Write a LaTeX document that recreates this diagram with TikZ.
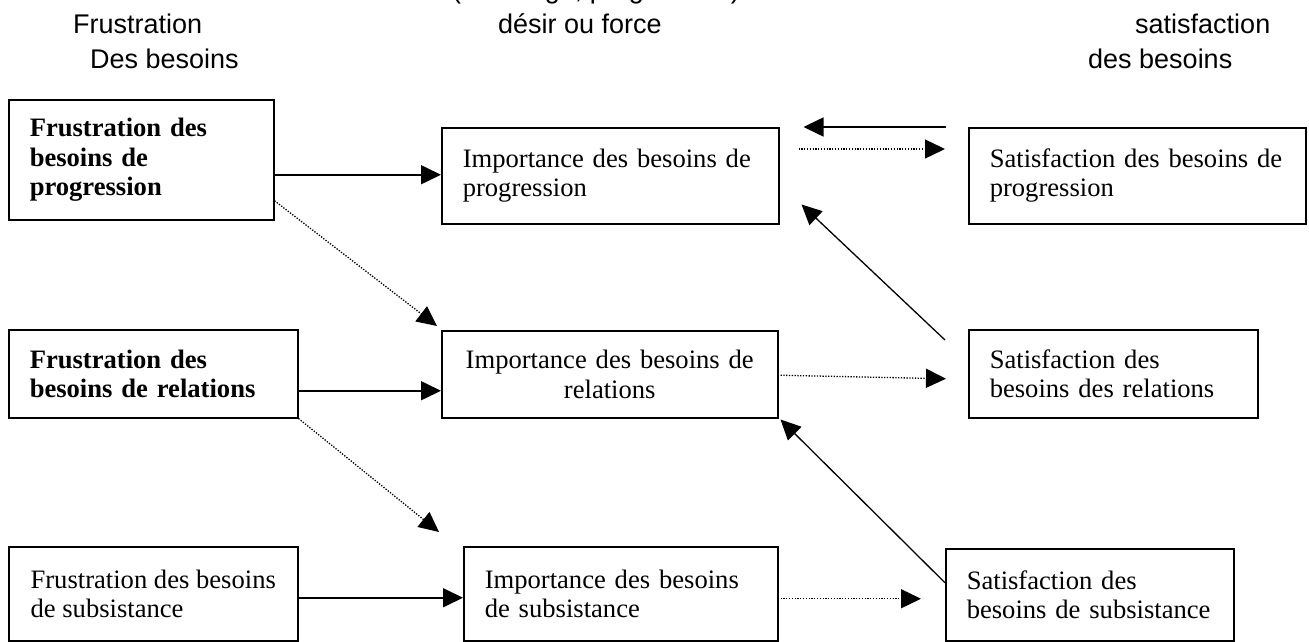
\documentclass[tikz,border=0pt]{standalone}
\usepackage{fontspec}
\setmainfont{Liberation Serif}
\newfontfamily\headfont{Liberation Sans}
\usepackage{tikz}
\usetikzlibrary{arrows.meta}
\newcommand{\boxfont}{\fontsize{26.6}{29.5}\selectfont}
\newcommand{\headsize}{\headfont\fontsize{27}{31}\selectfont}

\begin{document}
\begin{tikzpicture}[
    x=1pt, y=-1pt,
    box/.style={draw, line width=1.5pt, anchor=north west, inner xsep=21pt,
                inner ysep=0pt, align=left, font=\boxfont},
    strong/.style={box, font=\boxfont\bfseries},
    head/.style={anchor=base west, inner sep=0pt, font=\headsize},
    arr/.style={-{Triangle[length=20pt, width=19pt]}, line width=1.6pt},
    slant/.style={arr, line width=1.3pt},
    feed/.style={arr, line width=1.3pt, dash pattern=on 1.3pt off 1.5pt},
  ]
    \useasboundingbox (0,0) rectangle (1309,642);

    \node[head] (fr) at (73,34) {Frustration};
    \node[head] (frb) at (90,69) {Des besoins};
    \node[head] (imp) at (452,-1) {(Avantage, progression)};
    \node[head] (imb) at (498,34) {désir ou force};
    \node[head] (sat) at (1135,34) {satisfaction};
    \node[head] (satb) at (1088,69) {des besoins};

    \node[strong, text width=223pt, minimum height=120pt] (L1) at (8,99) {Frustration des\\besoins de\\progression};
    \node[box, text width=295pt, minimum height=96pt] (M1) at (441,127) {Importance des besoins de\\progression};
    \node[box, text width=295pt, minimum height=96pt] (R1) at (968,127) {Satisfaction des besoins de\\progression};

    \node[strong, text width=247pt, minimum height=88pt] (L2) at (8,329) {Frustration des\\besoins de relations};
    \node[box, align=center, text width=294pt, minimum height=87pt] (M2) at (441,330) {Importance des besoins de\\relations};
    \node[box, text width=247pt, minimum height=88pt] (R2) at (968,329) {Satisfaction des\\besoins des relations};

    \node[box, minimum width=289pt, minimum height=94pt] (L3) at (8,546) {Frustration des besoins\\de subsistance};
    \node[box, text width=272pt, minimum height=94pt] (M3) at (463,546) {Importance des besoins\\de subsistance};
    \node[box, text width=246pt, minimum height=92pt] (R3) at (945,548) {Satisfaction des\\besoins de subsistance};

    \draw[arr] ([yshift=-15pt]L1.east) -- ([yshift=-15pt]L1.east -| M1.west);
    \draw[feed] ([yshift=-41pt]L1.east) -- ([xshift=-4pt, yshift=4pt]M2.north west);
    \draw[arr] ([xshift=-22pt]R1.north west) -- ([xshift=24pt]M1.north east);
    \draw[feed] ([xshift=19pt, yshift=-22pt]M1.north east) -- ([xshift=-23pt, yshift=-22pt]R1.north west);

    \draw[arr] ([yshift=-17pt]L2.east) -- ([yshift=-17pt]L2.east -| M2.west);
    \draw[feed] (L2.south east) -- ([xshift=-24pt, yshift=14pt]M3.north west);
    \draw[feed] ([xshift=2pt, yshift=-1pt]M2.east) -- ([xshift=-22pt, yshift=-5pt]R2.west);
    \draw[slant] ([xshift=-23pt, yshift=-11pt]R2.north west) -- ([xshift=22pt, yshift=20pt]M1.south east);

    \draw[arr] ([yshift=-4pt]L3.east) -- ([yshift=-4pt]L3.east -| M3.west);
    \draw[feed] ([xshift=2pt, yshift=-5pt]M3.east) -- ([xshift=-24pt, yshift=-4pt]R3.west);
    \draw[slant] ([yshift=12pt]R3.west) -- ([xshift=2pt, yshift=-1pt]M2.south east);
  \end{tikzpicture}
\end{document}
